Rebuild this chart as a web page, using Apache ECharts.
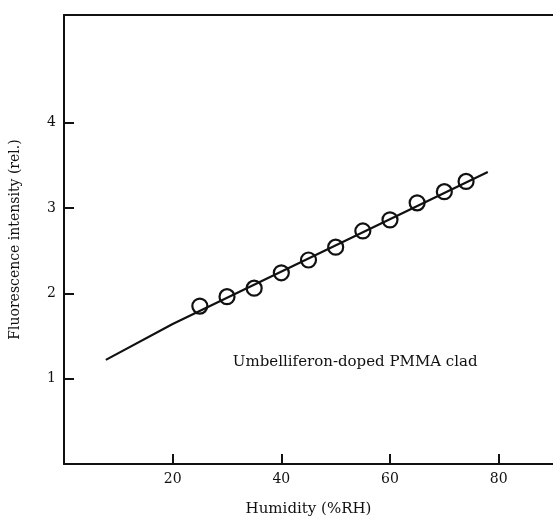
<!DOCTYPE html>
<html>
<head>
<meta charset="utf-8">
<script src="https://cdn.jsdelivr.net/npm/echarts@6/dist/echarts.min.js"></script>
<style>
  html, body { margin: 0; padding: 0; background: #fff; }
  #chart { width: 553px; height: 524px; }
</style>
</head>
<body>
<div id="chart"></div>
<script>
// measured points (circles)
const humidity = [25, 30, 35, 40, 45, 50, 55, 60, 65, 70, 74]
const intensity = [1.85, 1.96, 2.06, 2.24, 2.39, 2.54, 2.73, 2.86, 3.06, 3.19, 3.31]
// fitted curve
const fitX = [7.7, 20, 78]
const fitY = [1.22, 1.64, 3.42]
const xTicks = [20, 40, 60, 80]
const yTicks = [1, 2, 3, 4]
const note = { x: 53.6, y: 1.19, text: 'Umbelliferon-doped PMMA clad' }

const ink = '#111'
const font = 'DejaVu Serif'
const chart = echarts.init(document.getElementById('chart'), null, { renderer: 'canvas' })

chart.setOption({
  backgroundColor: '#fff',
  animation: false,
  grid: { left: 64, top: 15, width: 489, height: 449 },
  xAxis: [{
    type: 'value', min: 0, max: 90,
    name: 'Humidity (%RH)', nameLocation: 'middle', nameGap: 38,
    nameTextStyle: { color: ink, fontFamily: font, fontSize: 15 },
    axisLine: { lineStyle: { color: ink, width: 2 } },
    axisTick: { inside: true, length: 10, customValues: xTicks, lineStyle: { color: ink, width: 2 } },
    axisLabel: { customValues: xTicks, color: ink, fontFamily: font, fontSize: 14, margin: 8 },
    splitLine: { show: false }
  }, {
    // top frame line only
    type: 'value', position: 'top', min: 0, max: 90,
    axisLine: { show: true, lineStyle: { color: ink, width: 2 } },
    axisTick: { show: false }, axisLabel: { show: false }, splitLine: { show: false }
  }],
  yAxis: {
    type: 'value', min: 0, max: 5.26,
    name: 'Fluorescence intensity (rel.)', nameLocation: 'middle', nameGap: 42,
    nameTextStyle: { color: ink, fontFamily: font, fontSize: 14 },
    axisLine: { lineStyle: { color: ink, width: 2 } },
    axisTick: { inside: true, length: 10, customValues: yTicks, lineStyle: { color: ink, width: 2 } },
    axisLabel: { customValues: yTicks, color: ink, fontFamily: font, fontSize: 14, margin: 8 },
    splitLine: { show: false }
  },
  series: [
    {
      type: 'line', data: fitX.map((x, i) => [x, fitY[i]]),
      symbol: 'none', lineStyle: { color: ink, width: 2.2 }, z: 2
    },
    {
      type: 'scatter', data: humidity.map((x, i) => [x, intensity[i]]),
      symbol: 'circle', symbolSize: 15,
      itemStyle: { color: 'rgba(0,0,0,0)', borderColor: ink, borderWidth: 2.2, opacity: 1 }, z: 3
    },
    {
      type: 'scatter', data: [[note.x, note.y]], symbolSize: 0, silent: true,
      itemStyle: { opacity: 1 },
      label: { show: true, position: 'inside', formatter: note.text, color: ink, fontFamily: font, fontSize: 15 }
    }
  ]
})
</script>
</body>
</html>
